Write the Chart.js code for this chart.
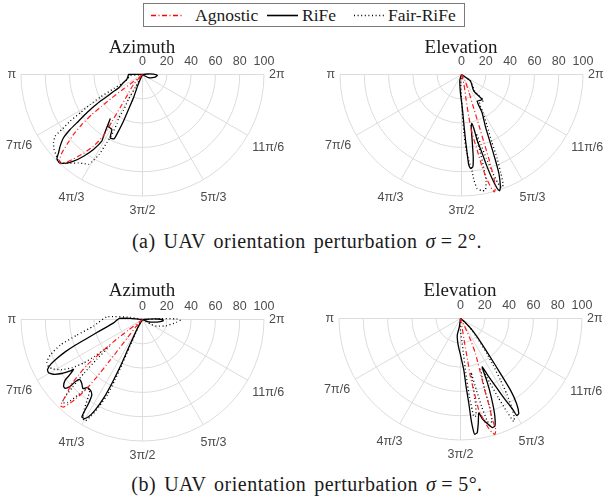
<!DOCTYPE html>
<html><head><meta charset="utf-8">
<script src="https://cdn.jsdelivr.net/npm/chart.js@4.4.0/dist/chart.umd.min.js"></script>
<style>
html,body{margin:0;padding:0;background:#fff;}
body{width:604px;height:497px;overflow:hidden;position:relative;font-family:"Liberation Serif","Times New Roman",serif;color:#1a1a1a;}
canvas{position:absolute;z-index:1;}
.t{position:absolute;z-index:2;white-space:nowrap;font-size:19px;line-height:20px;height:20px;text-align:center;}
.cap{font-size:20px;letter-spacing:0.5px;word-spacing:2.5px;line-height:22px;height:22px;}
.cap .eq{margin:0 5px;}
#legend{position:absolute;z-index:2;left:143px;top:3px;width:322px;height:24px;border:1px solid #7a7a7a;box-sizing:border-box;background:#fff;}
#legend .it{position:absolute;top:0;height:22px;line-height:22px;font-size:17.5px;white-space:nowrap;}
#legend svg{position:absolute;top:0;}
</style>
</head><body>
<canvas id="cA"></canvas>
<canvas id="cB"></canvas>
<canvas id="cC"></canvas>
<canvas id="cD"></canvas>

<div id="legend">
  <svg width="34" height="22" style="left:6px"><line x1="1" y1="11.5" x2="32" y2="11.5" stroke="#ff0000" stroke-width="1.3" stroke-dasharray="5,2.5,1,2.5"/></svg>
  <span class="it" style="left:51px">Agnostic</span>
  <svg width="34" height="22" style="left:123px"><line x1="0" y1="11.5" x2="31" y2="11.5" stroke="#000" stroke-width="1.6"/></svg>
  <span class="it" style="left:158px">RiFe</span>
  <svg width="34" height="22" style="left:209px"><line x1="1" y1="11.5" x2="32" y2="11.5" stroke="#000" stroke-width="1.3" stroke-dasharray="1,2.6"/></svg>
  <span class="it" style="left:244px">Fair-RiFe</span>
</div>

<div class="t" style="left:82px;width:120px;top:37px">Azimuth</div>
<div class="t" style="left:401px;width:120px;top:37px">Elevation</div>
<div class="t" style="left:82px;width:120px;top:280px">Azimuth</div>
<div class="t" style="left:400px;width:120px;top:280px">Elevation</div>
<div class="t cap" style="left:57px;width:500px;top:230px">(a) UAV orientation perturbation <i>σ</i><span class="eq">=</span>2°.</div>
<div class="t cap" style="left:57px;width:500px;top:473px">(b) UAV orientation perturbation <i>σ</i><span class="eq">=</span>5°.</div>

<script>
// ---------- axis definitions ----------
const ringValues = [20, 40, 60, 80, 100];
const tickValues = [0, 20, 40, 60, 80, 100];
const spokeAngles = [180, 210, 240, 270, 300, 330, 360];
const spokeLabels = ['π', '7π/6', '4π/3', '3π/2', '5π/3', '11π/6', '2π'];
const seriesNames = ['Agnostic', 'RiFe', 'Fair-RiFe'];

// ---------- data: [angle in degrees, radius] ----------
// (a) sigma = 2 deg, Azimuth
const aziS2_agnostic = [[220,0],[219.8,4.3],[218,11.1],[217.2,21.3],[217.3,31.7],[217.9,42.4],[218.3,53.1],[219.5,64.7],[221,75.3],[222.8,84.8],[224.2,92.5],[225.7,97.8],[227.2,99.8],[228.8,96.6],[230.7,89.7],[233.2,81.2],[235.6,71.5],[237.5,60],[237,46],[236,33],[234.1,22],[228,11.1],[225,0]];
const aziS2_rife = [[0,0],[332,5.6],[348,10.6],[357,12.3],[2,9],[6,4],[90,0],[180,11.5],[187,12],[197,13.5],[203,17],[209,22],[210.5,28],[211.7,33],[212.2,41.2],[213.4,48.3],[214.5,55.6],[216.1,65.2],[217.2,74.8],[218.7,83.3],[221,89.8],[223,94.5],[224.6,98.9],[226.8,99.8],[229,97],[231.5,91.2],[234.2,82.9],[236.8,73.7],[238.6,64.3],[237.7,60.1],[233.9,45.2],[236.1,51.2],[240.9,51.8],[242.9,58.5],[246.2,57.9],[247,50.6],[247.8,41.5],[248.2,31],[248.9,20.6],[246.8,10.4],[245,4.5],[0,0]];
const aziS2_fair = [[0,0],[185,10],[197,13],[203,17],[206,26],[208.2,39.5],[209.8,49.7],[211.6,60.2],[212.8,70.8],[214.3,80.4],[215.2,88],[217.5,92.3],[220.3,95.4],[223.2,97.4],[225.9,99.3],[228,98],[231,94],[234,90],[237,87.5],[239,86.4],[240,83],[241.5,75],[242.4,63.4],[243,55],[242.5,45],[241.4,41.2],[242,33.3],[240.5,23],[241,12],[240,0]];

// (a) sigma = 2 deg, Elevation
const eleS2_agnostic = [[270,0],[284.5,7.7],[280.3,21.5],[279.8,35.4],[280.2,49.4],[281.7,63.6],[282.6,77.9],[283.7,89.5],[284.9,97.9],[285.7,100.3],[286.8,96.6],[287.5,86.9],[288,72.7],[288.3,58.4],[288.9,44.1],[289.9,29.8],[292.9,15.5],[300.5,5.4],[300,0]];
const eleS2_rife = [[0,0],[253.6,4.9],[267,15.7],[271.2,26.6],[272.7,40.4],[273.5,54.2],[274.1,65.2],[274.6,74.9],[275.5,77.7],[277,76.6],[278.1,68.4],[279.2,54.8],[280.5,43.8],[281.9,41.2],[282.9,45.6],[283.4,55.6],[284.7,67.2],[285.5,78.9],[286.4,89.2],[287.4,98.3],[288.1,100.7],[289.1,97.9],[290.7,87.1],[291.6,75.9],[292.8,61.6],[294.6,47.4],[298.3,35.8],[300.4,25.5],[309.6,26.7],[306.5,17.1],[323.5,9.2],[0,0]];
const eleS2_fair = [[0,0],[265,8],[270,20],[271.5,35],[272.5,50],[273.5,62],[275,72],[276.3,80.6],[276.7,87.6],[277.8,94.7],[280.1,97.2],[281.7,97.2],[283,90],[283.5,75],[283.5,60],[284,50],[285.5,60],[286.5,72],[287.5,84],[288.5,94],[289.5,99],[290.7,97],[291.8,87],[293,75],[294.2,61],[296.5,47],[299.5,36],[302,28],[310.5,28],[308,18],[325,9],[0,0]];

// (b) sigma = 5 deg, Azimuth
const aziS5_agnostic = [[215,0],[217,15],[217.5,30],[218,37],[219.4,59.3],[221,70],[222.5,80],[224.4,87.1],[225.5,93],[226.5,98],[228,97],[229.4,89.3],[230.5,80],[231.1,73],[231.5,60.3],[231.5,42.8],[230.5,20.3],[228,8],[225,0]];
const aziS5_rife = [[0,0],[340,6],[350,12],[356,17],[359,17],[2,12],[4,5],[0,0],[175,10],[177.5,19],[186.6,24],[192.6,31.5],[196.5,40.6],[199.2,50],[200.9,59.3],[202.7,69],[204.5,77.5],[206,83.9],[207.8,88.4],[209.6,88.9],[211.6,86],[213.8,79.9],[215.4,73],[215.9,70.1],[217.3,75.6],[218.1,80.9],[220.2,85.1],[221.7,85.3],[222.7,81],[222.8,75.5],[223.6,71.6],[226.5,72.6],[229.2,75.1],[231,72],[234.1,72.5],[236.2,75],[237.3,82.2],[237.7,89.9],[238.1,94.4],[239.5,94.6],[241,91.6],[242.4,84.2],[243.7,72.5],[244.4,58.4],[244.7,43.1],[244.1,29.6],[242.6,16.1],[239,6.4],[0,0]];
const aziS5_fair = [[0,0],[330,8],[335,13],[345,20],[355,28],[359,31],[1,28],[3,15],[0,0],[170,10],[175.7,29.4],[187.7,40.7],[193.4,55.6],[197.3,71],[201.1,81.5],[203.9,86.1],[206.7,86.6],[209,84],[212,78],[214.5,70],[216.5,60],[217.5,50],[218,40],[219,35],[221,50],[222.5,65],[224,80],[225,90],[226,95],[228,92],[229.5,82],[231,74],[233,72],[235,78],[237,88],[239,95],[240.5,96],[242,90],[243.5,80],[245,68],[245.5,55],[245.5,40],[245,25],[243,12],[240,5],[0,0]];

// (b) sigma = 5 deg, Elevation
const eleS5_agnostic = [[280,0],[280,8],[279.5,20.8],[279.7,35],[279.7,48.7],[280.5,62],[281.3,76.9],[283,86],[284.4,93.5],[285.5,97.5],[286.5,99.5],[287.6,96],[287.5,87.7],[288.2,75],[288.9,59.4],[290.5,45],[293.2,31.3],[295,20],[297,9.2],[295,0]];
const eleS5_rife = [[0,0],[262,7],[259,14],[265,22],[270,30],[273.7,42.6],[274.7,56.4],[275.6,70.3],[276,84.1],[276.5,92.5],[276.9,95.9],[278.3,95.1],[279.6,87.6],[281,79.1],[282.2,84.2],[284.3,89.2],[286.2,93.5],[287.8,92.8],[289.7,83],[291.4,69.2],[292.8,56.6],[294.1,43.6],[295.9,53.4],[297.6,65],[298.9,76.7],[299.9,87],[300.1,92.2],[301.5,91.8],[303.4,83.8],[304.9,71.9],[306,56],[307.6,40.5],[310.6,25.3],[315,13.6],[319,5.4],[0,0]];
const eleS5_fair = [[0,0],[270,10],[274.5,25],[275.5,45],[276.5,65],[277.3,76],[277.7,81.7],[279,81],[280,72],[280.5,55],[281,45],[282.5,60],[283.5,75],[284.5,86],[285.4,91.1],[287,88],[288.2,78],[288.8,62],[290,52],[292,45],[293.5,48],[294.5,58],[295.5,72],[296.5,86],[297.3,95.5],[298.5,93],[300,84],[301.5,73],[303,60],[305,47],[307,36],[310,24],[315,13],[320,6],[0,0]];

// ---------- drawing ----------
const PX_PER_UNIT = 1.215;
const GRID_COLOR = '#dcdcdc';
const LABEL_COLOR = '#4d4d4d';

function toXY(arr) {
  return arr.map(([deg, r]) => {
    const t = deg * Math.PI / 180;
    return { x: r * Math.cos(t), y: r * Math.sin(t) };
  });
}

const polarGrid = {
  id: 'polarGrid',
  beforeDatasetsDraw(chart) {
    const { ctx, scales: { x, y } } = chart;
    const cx = x.getPixelForValue(0), cy = y.getPixelForValue(0);
    const k = x.getPixelForValue(1) - cx;
    ctx.save();
    ctx.strokeStyle = GRID_COLOR;
    ctx.lineWidth = 1;
    ringValues.forEach(v => {
      ctx.beginPath();
      ctx.arc(cx, cy, v * k, 0, Math.PI);
      ctx.stroke();
    });
    spokeAngles.forEach(a => {
      const t = a * Math.PI / 180;
      ctx.beginPath();
      ctx.moveTo(cx, cy);
      ctx.lineTo(x.getPixelForValue(100 * Math.cos(t)), y.getPixelForValue(100 * Math.sin(t)));
      ctx.stroke();
    });
    ctx.fillStyle = LABEL_COLOR;
    ctx.font = '12.5px "Liberation Sans", Arial, sans-serif';
    ctx.textAlign = 'center';
    ctx.textBaseline = 'middle';
    tickValues.forEach(v => {
      ctx.fillText(String(v), x.getPixelForValue(v), cy - 12.5);
    });
    const R = 100 * k;
    spokeAngles.forEach((a, i) => {
      const t = a * Math.PI / 180;
      const w = ctx.measureText(spokeLabels[i]).width, h = 12;
      const c = Math.cos(t), s = Math.sin(t);
      const gap = 9 - 4 * Math.pow(Math.abs(c), 4);
      const d = R + gap + Math.abs(c) * w / 2 + Math.abs(s) * h / 2;
      ctx.fillText(spokeLabels[i], cx + d * c, cy - d * s);
    });
    ctx.restore();
  }
};

// (px, py) = integer pixel whose centre is the polar origin
function makePanel(id, px, py, agn, rife, fair) {
  const left = 150, right = 181, up = 21, down = 153;
  const cv = document.getElementById(id);
  cv.width = left + right; cv.height = up + down;
  cv.style.left = (px - left) + 'px';
  cv.style.top = (py - up) + 'px';
  const common = { showLine: true, pointRadius: 0, fill: false, tension: 0.15 };
  new Chart(cv, {
    type: 'scatter',
    data: {
      datasets: [
        Object.assign({ label: seriesNames[0], data: toXY(agn), borderColor: '#ff1a1a', borderWidth: 1.2, borderDash: [5, 2.5, 1, 2.5], order: 0 }, common),
        Object.assign({ label: seriesNames[1], data: toXY(rife), borderColor: '#000', borderWidth: 1.3, order: 1 }, common),
        Object.assign({ label: seriesNames[2], data: toXY(fair), borderColor: '#000', borderWidth: 1.3, borderDash: [1, 2.6], order: 2 }, common)
      ]
    },
    options: {
      responsive: false, maintainAspectRatio: false, animation: false, events: [],
      layout: { padding: 0 },
      plugins: { legend: { display: false }, tooltip: { enabled: false } },
      scales: {
        x: { type: 'linear', display: false, min: -(left + 0.5) / PX_PER_UNIT, max: (right - 0.5) / PX_PER_UNIT },
        y: { type: 'linear', display: false, min: -(down - 0.5) / PX_PER_UNIT, max: (up + 0.5) / PX_PER_UNIT }
      }
    },
    plugins: [polarGrid]
  });
}

makePanel('cA', 142, 74, aziS2_agnostic, aziS2_rife, aziS2_fair);
makePanel('cB', 461, 74, eleS2_agnostic, eleS2_rife, eleS2_fair);
makePanel('cC', 142, 319, aziS5_agnostic, aziS5_rife, aziS5_fair);
makePanel('cD', 460, 318, eleS5_agnostic, eleS5_rife, eleS5_fair);
</script>
</body></html>
